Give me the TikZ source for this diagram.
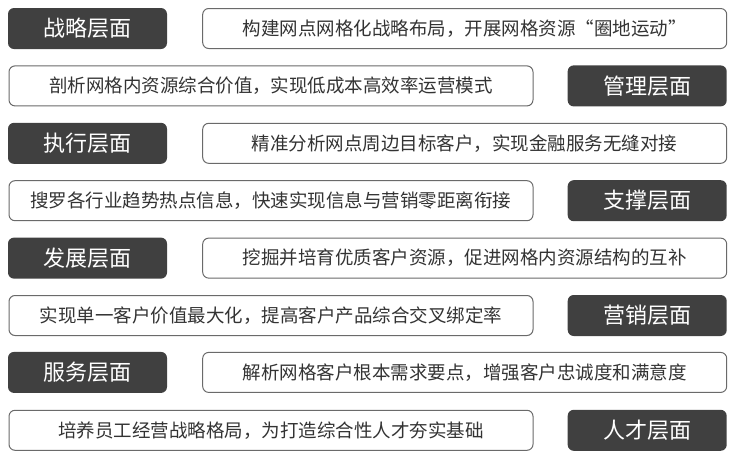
\documentclass[tikz,border=0pt]{standalone}
\usepackage{fontspec}
\newfontfamily\cjk{Noto Sans CJK SC}
\usetikzlibrary{positioning}
\definecolor{layerGray}{HTML}{404040}
\definecolor{textGray}{HTML}{333333}
\definecolor{lineGray}{HTML}{6A6A6A}

\begin{document}
\begin{tikzpicture}[x=1pt,y=-1pt,
	layerLabel/.style={rounded corners=6pt, fill=layerGray, text=white, minimum width=159pt, minimum height=41pt, inner sep=0pt, font=\cjk\fontsize{22}{22}\selectfont},
	layerText/.style={rounded corners=6pt, draw=lineGray, line width=1pt, fill=white, text=textGray, minimum width=524pt, minimum height=40pt, inner sep=0pt, font=\cjk\fontsize{18.5}{18.5}\selectfont}]
	\useasboundingbox (0,0) rectangle (737,469);
	\node[layerLabel] (strategy) at (87.5,28.5) {战略层面};
	\node[layerText] (strategyText) [right=35pt of strategy] {构建网点网格化战略布局，开展网格资源“圈地运动”};
	\node[layerText] (manageText) at (271,85.9) {剖析网格内资源综合价值，实现低成本高效率运营模式};
	\node[layerLabel] (manage) [right=34pt of manageText] {管理层面};
	\node[layerLabel] (execute) at (87.5,143.3) {执行层面};
	\node[layerText] (executeText) [right=35pt of execute] {精准分析网点周边目标客户，实现金融服务无缝对接};
	\node[layerText] (supportText) at (271,200.7) {搜罗各行业趋势热点信息，快速实现信息与营销零距离衔接};
	\node[layerLabel] (support) [right=34pt of supportText] {支撑层面};
	\node[layerLabel] (develop) at (87.5,258.1) {发展层面};
	\node[layerText] (developText) [right=35pt of develop] {挖掘并培育优质客户资源，促进网格内资源结构的互补};
	\node[layerText] (marketText) at (271,315.5) {实现单一客户价值最大化，提高客户产品综合交叉绑定率};
	\node[layerLabel] (market) [right=34pt of marketText] {营销层面};
	\node[layerLabel] (service) at (87.5,372.4) {服务层面};
	\node[layerText] (serviceText) [right=35pt of service] {解析网格客户根本需求要点，增强客户忠诚度和满意度};
	\node[layerText] (talentText) at (271,430.3) {培养员工经营战略格局，为打造综合性人才夯实基础};
	\node[layerLabel] (talent) [right=34pt of talentText] {人才层面};
\end{tikzpicture}
\end{document}
